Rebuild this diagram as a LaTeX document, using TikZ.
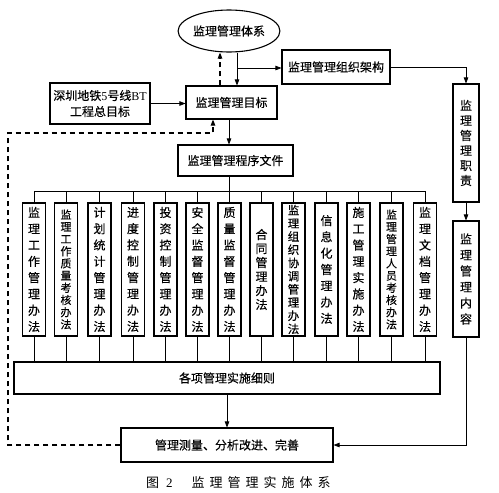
\documentclass[tikz,border=0pt]{standalone}
\usepackage{fontspec}
\setmainfont{Liberation Serif}
\newfontfamily\cjk[FakeBold=0.3]{Noto Sans CJK SC}
\newfontfamily\cjkcap{Noto Sans CJK SC}
\usetikzlibrary{arrows.meta,shapes.geometric}
\tikzset{
  bx/.style={draw, line width=1.1pt, inner sep=0pt, font=\cjk\fontsize{12}{16}\selectfont},
  vbox/.style={bx, minimum width=23pt, minimum height=133pt, align=center},
  conn/.style={line width=0.8pt},
  arr/.style={conn, -{Triangle[length=6pt,width=4.5pt]}},
  dsh/.style={line width=1.1pt, dash pattern=on 5.5pt off 3.5pt},
}
\newcommand{\vf}[2]{\cjk\fontsize{#1}{#2}\selectfont}
\begin{document}
\begin{tikzpicture}[x=1pt,y=-1pt]
\useasboundingbox (0,0) rectangle (499,493);
% top
\node[bx, ellipse, minimum width=88pt, minimum height=42pt] (sys) at (229,31) {监理管理体系};
\node[bx, minimum width=108pt, minimum height=34pt] (org) at (336,67) {监理管理组织架构};
\node[bx, minimum width=91pt, minimum height=33pt] (goal) at (231.5,102.5) {监理管理目标};
\node[bx, minimum width=100pt, minimum height=41pt, align=center] (src) at (100,103.5) {深圳地铁{\rmfamily 5}号线{\rmfamily BT}\\工程总目标};
\node[bx, minimum width=115pt, minimum height=31pt] (proc) at (235.5,160.5) {监理管理程序文件};
\node[vbox, minimum width=26pt, minimum height=118pt, font=\vf{12}{15}] (duty) at (466,143) {监\\理\\管\\理\\职\\责};
\node[vbox, minimum width=26pt, minimum height=116pt, font=\vf{12}{16}] (cont) at (466,279) {监\\理\\管\\理\\内\\容};
% vertical boxes
\node[vbox, font=\vf{12}{16.3}] (b1) at (34,269.5) {监\\理\\工\\作\\管\\理\\办\\法};
\node[vbox, font=\vf{11}{12.2}] (b2) at (66,269.5) {监\\理\\工\\作\\质\\量\\考\\核\\办\\法};
\node[vbox, font=\vf{12}{16.3}] (b3) at (99.5,269.5) {计\\划\\统\\计\\管\\理\\办\\法};
\node[vbox, font=\vf{12}{16.3}] (b4) at (133,269.5) {进\\度\\控\\制\\管\\理\\办\\法};
\node[vbox, font=\vf{12}{16.3}] (b5) at (165.5,269.5) {投\\资\\控\\制\\管\\理\\办\\法};
\node[vbox, font=\vf{12}{16.3}] (b6) at (197.5,269.5) {安\\全\\监\\督\\管\\理\\办\\法};
\node[vbox, font=\vf{12}{16.3}] (b7) at (229.5,269.5) {质\\量\\监\\督\\管\\理\\办\\法};
\node[vbox, font=\vf{12}{14}] (b8) at (261.5,269.5) {合\\同\\管\\理\\办\\法};
\node[vbox, font=\vf{11.5}{13.2}] (b9) at (293.5,269.5) {监\\理\\组\\织\\协\\调\\管\\理\\办\\法};
\node[vbox, font=\vf{12}{16.3}] (b10) at (326.5,269.5) {信\\息\\化\\管\\理\\办\\法};
\node[vbox, font=\vf{12}{16.3}] (b11) at (358.5,269.5) {施\\工\\管\\理\\实\\施\\办\\法};
\node[vbox, font=\vf{11}{12.2}] (b12) at (391.5,269.5) {监\\理\\管\\理\\人\\员\\考\\核\\办\\法};
\node[vbox, font=\vf{12}{16.3}] (b13) at (425,269.5) {监\\理\\文\\档\\管\\理\\办\\法};
% bottom
\node[bx, minimum width=426pt, minimum height=32pt] (det) at (227,378) {各项管理实施细则};
\node[bx, minimum width=212pt, minimum height=34pt] (impl) at (227,445) {管理测量、分析改进、完善};
\node[font=\fontsize{13}{15}\selectfont, anchor=west, inner sep=0pt] (cap) at (146,483)
  {{\cjkcap 图}\hspace{7pt}2\hspace{19pt}{\cjkcap 监\hspace{5pt}理\hspace{5pt}管\hspace{5pt}理\hspace{5pt}实\hspace{5pt}施\hspace{5pt}体\hspace{5pt}系}};
% helper coordinates
\coordinate (xa) at (220,0);
\coordinate (xb) at (237,68);
\coordinate (xc) at (229,0);
\coordinate (bus) at (229,191);
\coordinate (rc) at (466,445);
\coordinate (dl) at (8,445);
\coordinate (dt) at (8,133);
\coordinate (dx) at (213,133);
% connectors
\draw[arr] (src.east) -- (src.east -| goal.west);
\draw[arr, dsh] (goal.north -| xa) -- (sys.south -| xa);
\draw[arr] (sys.south -| xb) -- (goal.north -| xb);
\draw[arr] (xb) -- (xb -| org.west);
\draw[arr] (org.east) -| (duty.north);
\draw[arr] (duty.south) -- (cont.north);
\draw[arr] (cont.south) -- (rc) -- (impl.east);
\draw[arr] (goal.south -| xc) -- (proc.north -| xc);
\draw[conn] (proc.south -| bus) -- (bus);
\draw[conn] (b1.north |- bus) -- (b13.north |- bus);
\foreach \i in {1,...,13}{
  \draw[conn] (b\i.north |- bus) -- (b\i.north);
  \draw[conn] (b\i.south) -- (b\i.south |- det.north);
}
\draw[arr] (det.south) -- (impl.north);
\draw[arr, dsh] (impl.west) -- (dl) -- (dt) -- (dx) -- (goal.south -| dx);
\end{tikzpicture}
\end{document}
